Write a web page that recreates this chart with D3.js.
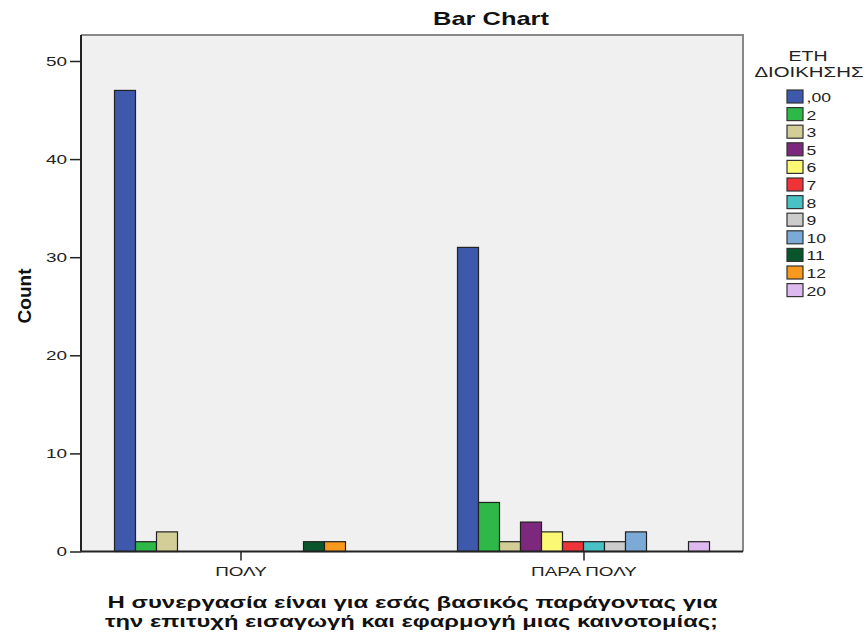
<!DOCTYPE html>
<html><head><meta charset="utf-8">
<script src="https://cdn.jsdelivr.net/npm/d3@7"></script>
<style>body{margin:0;background:#fff}svg{display:block;font-family:"Liberation Sans",Arial,sans-serif}</style>
</head><body><svg id="c" width="868" height="637"></svg>
<script>
const categories = ["ΠΟΛΥ", "ΠΑΡΑ ΠΟΛΥ"];
const seriesNames = [",00", "2", "3", "5", "6", "7", "8", "9", "10", "11", "12", "20"];
const valuesPoly = [47, 1, 2, 0, 0, 0, 0, 0, 0, 1, 1, 0];
const valuesParaPoly = [31, 5, 1, 3, 2, 1, 1, 1, 2, 0, 0, 1];
const colors = ["#3E58AC", "#2EB848", "#D3CE97", "#7C287D", "#FBF873", "#EF3338", "#48C2C5", "#CCCCCC", "#7AAAD5", "#0A562C", "#F8981D", "#DDB9F0"];
const yTicks = [0, 10, 20, 30, 40, 50];
const yMax = 52.65;

const svg = d3.select("#c");
const L = 81, R = 743, T = 35, B = 551.5;

// horizontally stretch text (reference text is wide)
function stretch(sel, sx) {
  sel.each(function () {
    const w = this.getComputedTextLength();
    d3.select(this).attr("textLength", w * sx).attr("lengthAdjust", "spacingAndGlyphs");
  });
}
function fit(sel, w) { sel.attr("textLength", w).attr("lengthAdjust", "spacingAndGlyphs"); }

svg.append("rect").attr("x", L).attr("y", T).attr("width", R - L).attr("height", B - T).attr("fill", "#F0F0F0");

const y = d3.scaleLinear().domain([0, yMax]).range([B, T]);
const x = d3.scalePoint().domain(categories).range([L, R]).padding(0.465);
const inner = d3.scaleBand().domain(seriesNames).range([-126, 126]).padding(0);

const data = [valuesPoly, valuesParaPoly];
categories.forEach((c, ci) => {
  const g = svg.append("g").attr("transform", `translate(${x(c)},0)`);
  seriesNames.forEach((s, si) => {
    const v = data[ci][si];
    if (v <= 0) return;
    g.append("rect").attr("x", inner(s)).attr("y", y(v)).attr("width", inner.bandwidth()).attr("height", B - y(v))
      .attr("fill", colors[si]).attr("stroke", "#222").attr("stroke-width", 1.2);
  });
});

// frame top/right
svg.append("path").attr("d", `M${L},${T}H${R}V${B}`).attr("fill", "none").attr("stroke", "#888").attr("stroke-width", 2);

// y axis
const ya = d3.axisLeft(y).tickValues(yTicks).tickSize(11).tickPadding(3).tickFormat(d3.format("d"));
const yg = svg.append("g").attr("transform", `translate(${L},0)`).call(ya);
yg.select(".domain").attr("stroke", "#222").attr("stroke-width", 2).attr("d", `M0,${T}V${B}`);
yg.selectAll(".tick line").attr("stroke", "#222").attr("stroke-width", 1.5);
yg.selectAll("text").attr("font-size", 13.5).attr("fill", "#222").attr("font-family", "Liberation Sans, Arial, sans-serif");
stretch(yg.selectAll("text"), 1.4);

// x axis
const xa = d3.axisBottom(x).tickSize(9).tickPadding(6);
const xg = svg.append("g").attr("transform", `translate(0,${B})`).call(xa);
xg.select(".domain").attr("stroke", "#222").attr("stroke-width", 2).attr("d", `M${L},0H${R}`);
xg.selectAll(".tick line").attr("stroke", "#222").attr("stroke-width", 1.5);
xg.selectAll("text").attr("font-size", 13).attr("fill", "#222").attr("font-family", "Liberation Sans, Arial, sans-serif");
stretch(xg.selectAll("text"), 1.45);

// titles
fit(svg.append("text").attr("x", 491).attr("y", 25).attr("text-anchor", "middle").attr("font-size", 18.5).attr("font-weight", "bold").attr("fill", "#111").text("Bar Chart"), 116);
fit(svg.append("text").attr("transform", "translate(31,296) rotate(-90)").attr("text-anchor", "middle").attr("font-size", 17.5).attr("font-weight", "bold").attr("fill", "#111").text("Count"), 55);
fit(svg.append("text").attr("x", 412.5).attr("y", 608).attr("text-anchor", "middle").attr("font-size", 16.5).attr("font-weight", "bold").attr("fill", "#111").text("Η συνεργασία είναι για εσάς βασικός παράγοντας για"), 610);
fit(svg.append("text").attr("x", 411.5).attr("y", 627).attr("text-anchor", "middle").attr("font-size", 16.5).attr("font-weight", "bold").attr("fill", "#111").text("την επιτυχή εισαγωγή και εφαρμογή μιας καινοτομίας;"), 613);

// legend
fit(svg.append("text").attr("x", 808).attr("y", 61).attr("text-anchor", "middle").attr("font-size", 15).attr("fill", "#222").text("ΕΤΗ"), 39);
fit(svg.append("text").attr("x", 809).attr("y", 77).attr("text-anchor", "middle").attr("font-size", 15).attr("fill", "#222").text("ΔΙΟΙΚΗΣΗΣ"), 109);
const lg = svg.append("g");
seriesNames.forEach((s, i) => {
  const yy = 90 + i * 17.6;
  lg.append("rect").attr("x", 787).attr("y", yy).attr("width", 16).attr("height", 13).attr("fill", colors[i]).attr("stroke", "#333").attr("stroke-width", 1.2);
  const t = lg.append("text").attr("x", 806.5).attr("y", yy + 12).attr("font-size", 13.5).attr("fill", "#222").text(s);
  stretch(t, 1.3);
});
</script></body></html>
